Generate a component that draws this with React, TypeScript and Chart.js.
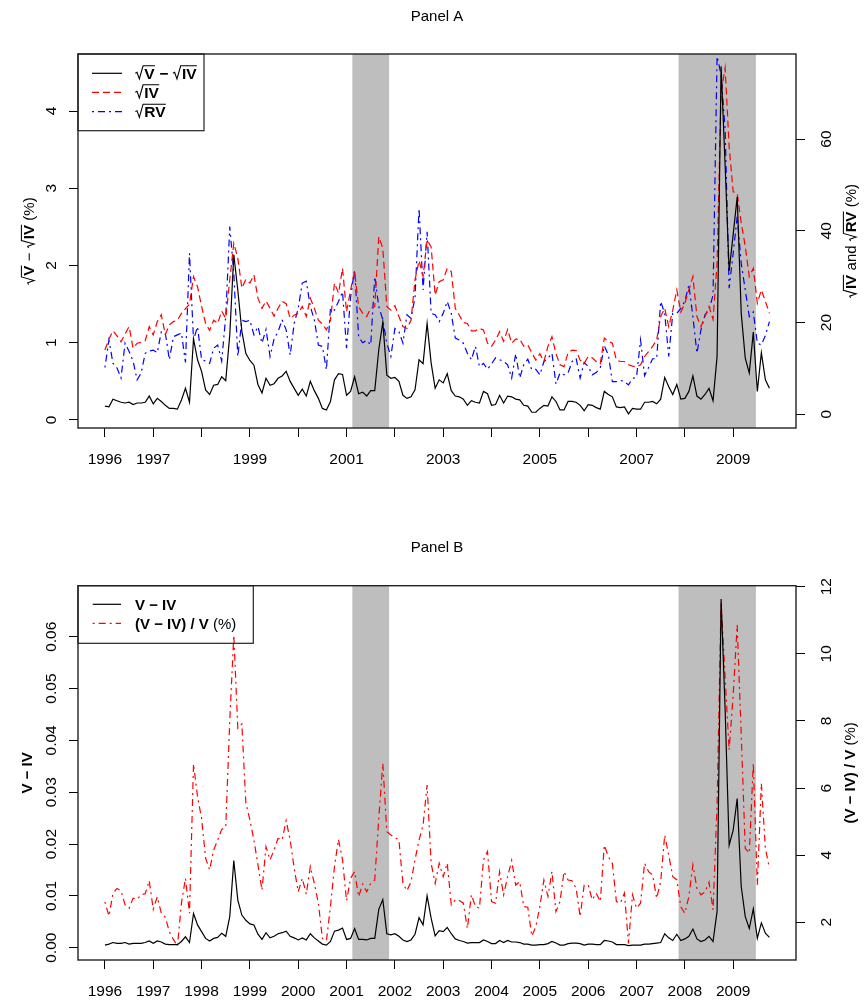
import React, { useEffect, useRef } from 'react';
import { Chart, registerables } from 'chart.js';

Chart.register(...registerables);

// ---------------- DATA ----------------
const START_YEAR = 1996; // monthly observations, Jan 1996 - Oct 2009
const recessions: number[][] = [
  [2001.12, 2001.88],
  [2007.87, 2009.47],
];
const xTickYears = [1996, 1997, 1998, 1999, 2000, 2001, 2002, 2003, 2004, 2005, 2006, 2007, 2008, 2009];
const panelAXLabels = [1996, 1997, 1999, 2001, 2003, 2005, 2007, 2009];
const yTicksA = [0, 1, 2, 3, 4];
const y2TicksA = [0, 20, 40, 60];
const yTicksB = [0, 0.01, 0.02, 0.03, 0.04, 0.05, 0.06];
const y2TicksB = [2, 4, 6, 8, 10, 12];

// Panel A: sqrt(V) - sqrt(IV) (%), left axis
const sqrtVminusSqrtIV = [
  0.18, 0.17, 0.27, 0.25, 0.23, 0.22, 0.23, 0.20, 0.22, 0.22, 0.23, 0.31,
  0.21, 0.28, 0.24, 0.19, 0.15, 0.15, 0.14, 0.26, 0.41, 0.23, 1.05, 0.78,
  0.63, 0.39, 0.33, 0.45, 0.46, 0.56, 0.51, 1.10, 2.14, 1.68, 1.15, 0.86,
  0.77, 0.71, 0.46, 0.35, 0.54, 0.45, 0.47, 0.54, 0.57, 0.63, 0.50, 0.41,
  0.32, 0.40, 0.31, 0.50, 0.38, 0.28, 0.15, 0.13, 0.24, 0.52, 0.60, 0.59,
  0.32, 0.37, 0.56, 0.34, 0.36, 0.31, 0.38, 0.38, 0.91, 1.27, 0.58, 0.54,
  0.55, 0.50, 0.32, 0.28, 0.30, 0.39, 0.78, 0.73, 1.25, 0.74, 0.41, 0.52,
  0.48, 0.60, 0.38, 0.31, 0.30, 0.27, 0.19, 0.25, 0.23, 0.22, 0.37, 0.34,
  0.19, 0.20, 0.32, 0.22, 0.31, 0.30, 0.27, 0.26, 0.19, 0.18, 0.10, 0.10,
  0.15, 0.19, 0.18, 0.30, 0.24, 0.13, 0.13, 0.24, 0.24, 0.23, 0.19, 0.12,
  0.20, 0.19, 0.16, 0.14, 0.37, 0.33, 0.30, 0.17, 0.16, 0.17, 0.08, 0.15,
  0.14, 0.14, 0.23, 0.23, 0.24, 0.21, 0.27, 0.55, 0.43, 0.33, 0.46, 0.27,
  0.28, 0.37, 0.57, 0.31, 0.27, 0.33, 0.41, 0.25, 0.82, 4.58, 3.30, 1.93,
  2.40, 2.89, 1.38, 0.80, 0.61, 1.14, 0.37, 0.87, 0.52, 0.41,
];

// Panel A: sqrt(IV) (%), right axis
const sqrtIV = [
  14.0, 16.4, 18.2, 17.1, 15.8, 17.5, 19.1, 14.4, 15.5, 15.7, 16.0, 19.1,
  17.3, 20.2, 21.7, 17.4, 19.5, 20.2, 20.5, 22.0, 23.0, 24.0, 30.0, 27.8,
  23.5, 19.8, 18.3, 20.5, 19.8, 22.5, 20.9, 29.3, 37.3, 34.0, 27.5, 29.4,
  28.6, 30.4, 25.3, 23.1, 24.7, 23.1, 21.4, 23.1, 24.6, 24.1, 20.9, 21.6,
  22.0, 23.5, 21.3, 25.3, 23.1, 20.5, 19.7, 18.4, 20.5, 28.6, 26.4, 31.8,
  22.3, 27.1, 31.1, 23.5, 22.0, 21.3, 23.1, 23.5, 38.7, 36.2, 23.5, 22.7,
  23.7, 21.3, 19.1, 18.7, 20.5, 29.3, 33.5, 30.0, 38.0, 36.5, 26.0, 28.9,
  29.3, 31.8, 31.1, 23.1, 21.6, 20.0, 19.8, 18.2, 18.2, 18.7, 18.4, 15.5,
  14.8, 16.2, 18.0, 15.9, 18.5, 15.5, 16.4, 16.4, 14.8, 15.1, 13.4, 11.8,
  13.2, 11.5, 14.8, 16.9, 13.2, 10.8, 10.4, 13.4, 14.0, 13.9, 11.8, 11.1,
  12.6, 12.3, 11.5, 11.0, 16.6, 15.9, 15.5, 11.8, 11.5, 11.5, 10.8, 10.5,
  10.3, 10.8, 12.6, 13.7, 14.8, 16.2, 21.3, 23.1, 19.1, 22.7, 27.1, 22.3,
  24.2, 27.1, 30.0, 21.3, 19.1, 21.3, 23.5, 20.7, 32.9, 70.0, 75.5, 58.4,
  48.5, 48.2, 41.7, 36.6, 30.0, 31.8, 24.2, 27.1, 24.6, 22.0,
];

// Panel A: sqrt(RV) (%), right axis
const sqrtRV = [
  10.2, 16.2, 11.1, 10.1, 7.9, 15.5, 13.7, 11.6, 7.5, 9.0, 13.3, 13.8,
  14.0, 13.4, 18.0, 17.7, 11.9, 16.9, 17.3, 17.7, 11.3, 35.1, 16.2, 19.1,
  11.9, 11.6, 11.1, 14.4, 15.1, 11.6, 21.3, 40.9, 30.8, 12.6, 20.5, 20.2,
  20.5, 17.3, 19.1, 15.5, 18.5, 12.6, 16.4, 18.0, 20.6, 18.4, 12.9, 19.8,
  23.1, 28.6, 29.0, 23.5, 20.6, 15.1, 14.8, 9.7, 23.1, 22.7, 24.6, 26.7,
  14.4, 25.5, 31.5, 16.9, 15.6, 16.1, 15.1, 30.0, 23.5, 20.6, 15.5, 12.6,
  18.7, 18.0, 15.5, 21.7, 20.9, 25.5, 44.9, 27.1, 39.8, 22.0, 21.7, 20.2,
  22.0, 24.6, 22.0, 16.6, 16.2, 15.5, 13.3, 11.9, 14.8, 10.4, 11.1, 9.8,
  11.0, 12.3, 11.9, 11.5, 10.8, 7.9, 13.2, 7.9, 10.8, 12.0, 9.7, 9.8,
  8.6, 11.5, 12.2, 13.3, 6.6, 9.0, 8.6, 9.0, 11.5, 12.2, 7.9, 11.3,
  10.4, 8.6, 9.1, 10.1, 14.9, 13.0, 7.1, 7.1, 7.4, 7.1, 6.4, 7.8,
  8.1, 16.2, 8.4, 10.2, 12.1, 12.1, 24.6, 22.0, 12.6, 22.0, 22.0, 23.1,
  24.6, 28.2, 21.3, 13.3, 18.4, 21.7, 22.7, 26.0, 78.0, 74.0, 62.0, 27.5,
  35.1, 43.1, 32.9, 27.1, 21.3, 22.3, 15.5, 15.1, 17.2, 20.2,
];

// Panel B: V - IV, left axis
const vMinusIV = [
  0.0005, 0.0007, 0.0010, 0.00085, 0.00085, 0.0010, 0.0007, 0.00085, 0.00085, 0.00085, 0.0010, 0.0013,
  0.00085, 0.0013, 0.0011, 0.0007, 0.0006, 0.0006, 0.0006, 0.0012, 0.0021, 0.0010, 0.0066, 0.0044,
  0.0031, 0.0018, 0.0013, 0.0018, 0.0020, 0.0028, 0.0022, 0.0060, 0.0168, 0.0092, 0.0063, 0.0053,
  0.0046, 0.0044, 0.0026, 0.0016, 0.0029, 0.0019, 0.0022, 0.0027, 0.0029, 0.0032, 0.0022, 0.0019,
  0.0015, 0.0019, 0.0015, 0.0027, 0.0019, 0.0013, 0.0007, 0.0005, 0.0012, 0.0032, 0.0034, 0.0038,
  0.0016, 0.0018, 0.0037, 0.0016, 0.0016, 0.0015, 0.0018, 0.0018, 0.0074, 0.0093, 0.0027, 0.0025,
  0.0027, 0.0022, 0.0015, 0.0012, 0.0015, 0.0026, 0.0058, 0.0044, 0.0100, 0.0057, 0.0023, 0.0033,
  0.0031, 0.0039, 0.0027, 0.0017, 0.0014, 0.0012, 0.0009, 0.0010, 0.0010, 0.0010, 0.0015, 0.0012,
  0.0008, 0.0008, 0.0014, 0.0010, 0.0014, 0.0011, 0.0011, 0.0010, 0.0007, 0.0007, 0.0005, 0.0005,
  0.0006, 0.0006, 0.0008, 0.0012, 0.0009, 0.0005, 0.0005, 0.0008, 0.0009, 0.0009, 0.0008, 0.0005,
  0.0007, 0.0007, 0.0006, 0.0006, 0.0014, 0.0013, 0.0011, 0.0006, 0.0006, 0.0006, 0.0004, 0.0005,
  0.0005, 0.0005, 0.0007, 0.0007, 0.0008, 0.0009, 0.0010, 0.0027, 0.0019, 0.0014, 0.0026, 0.0014,
  0.0017, 0.0022, 0.0036, 0.0017, 0.0012, 0.0015, 0.0022, 0.0012, 0.0070, 0.0673, 0.0460, 0.0198,
  0.0227, 0.0288, 0.0118, 0.0060, 0.0037, 0.0075, 0.0018, 0.0048, 0.0028, 0.0020,
];

// Panel B: (V - IV) / V (%), right axis
const vMinusIVPct = [
  2.61, 2.19, 2.86, 3.01, 2.94, 2.52, 2.42, 2.72, 2.69, 2.82, 2.85, 3.24,
  2.39, 2.76, 2.27, 2.15, 1.72, 1.49, 1.29, 2.57, 3.31, 2.27, 6.72, 5.74,
  5.10, 3.91, 3.56, 4.15, 4.45, 4.77, 4.83, 8.00, 10.56, 7.78, 7.91, 5.55,
  5.05, 4.45, 3.71, 2.96, 4.25, 3.86, 4.16, 4.50, 4.45, 5.03, 4.45, 3.61,
  2.91, 3.31, 2.84, 3.66, 3.16, 2.57, 1.52, 1.45, 2.47, 3.66, 4.47, 3.86,
  2.64, 3.31, 3.51, 2.76, 3.14, 2.91, 3.16, 3.26, 5.10, 6.74, 4.70, 4.60,
  4.53, 4.45, 3.16, 2.94, 3.21, 3.86, 4.45, 4.90, 6.09, 3.76, 3.16, 3.76,
  3.36, 3.76, 2.52, 2.67, 2.65, 2.57, 1.82, 2.82, 2.47, 2.42, 3.86, 4.11,
  2.62, 2.57, 3.51, 2.82, 3.36, 3.84, 3.11, 3.21, 2.47, 2.45, 1.59, 1.87,
  2.47, 3.26, 2.77, 3.51, 2.32, 2.62, 3.51, 3.26, 3.24, 3.01, 2.17, 3.11,
  3.11, 2.67, 2.87, 2.62, 4.30, 3.96, 3.76, 2.62, 2.57, 2.87, 1.37, 2.82,
  2.42, 2.57, 3.76, 3.51, 3.41, 2.72, 3.21, 4.60, 4.00, 3.36, 3.27, 2.46,
  2.27, 2.77, 3.71, 3.01, 2.82, 2.90, 3.20, 2.37, 5.50, 11.55, 9.30, 7.13,
  8.77, 10.86, 7.58, 4.20, 4.06, 6.74, 3.11, 6.14, 4.20, 3.61,
];

// ---------------- HELPERS ----------------
const FONT = '"Liberation Sans", Arial, Helvetica, sans-serif';
const DASHED = [7, 4];
const DOTDASH = [2, 4, 7, 4];
const toXY = (arr: number[]) => arr.map((v, i) => ({ x: START_YEAR + i / 12, y: v }));
const fontStr = (size: number, bold: boolean) => `${bold ? 'bold ' : ''}${size}px ${FONT}`;

type Seg = { t: string; b?: boolean; r?: boolean };

function segWidth(ctx: CanvasRenderingContext2D, s: Seg, size: number) {
  ctx.font = fontStr(size, !!s.b);
  const w = ctx.measureText(s.t).width;
  return s.r ? w + size * 0.62 : w;
}

function drawRich(ctx: CanvasRenderingContext2D, segs: Seg[], x: number, y: number, size: number, align: string) {
  const total = segs.reduce((a, s) => a + segWidth(ctx, s, size), 0);
  let cx = align === 'center' ? x - total / 2 : x;
  ctx.textAlign = 'left';
  ctx.textBaseline = 'alphabetic';
  ctx.fillStyle = '#000';
  for (const s of segs) {
    ctx.font = fontStr(size, !!s.b);
    const w = ctx.measureText(s.t).width;
    if (s.r) {
      const top = y - size * 0.84;
      ctx.save();
      ctx.beginPath();
      ctx.lineWidth = Math.max(1, size * 0.07);
      ctx.strokeStyle = '#000';
      ctx.setLineDash([]);
      ctx.moveTo(cx + size * 0.02, y - size * 0.36);
      ctx.lineTo(cx + size * 0.13, y - size * 0.42);
      ctx.lineTo(cx + size * 0.28, y + size * 0.01);
      ctx.lineTo(cx + size * 0.52, top);
      ctx.lineTo(cx + size * 0.62 + w, top);
      ctx.stroke();
      ctx.restore();
      ctx.fillText(s.t, cx + size * 0.6, y);
      cx += w + size * 0.62;
    } else {
      ctx.fillText(s.t, cx, y);
      cx += w;
    }
  }
}

function drawRotated(ctx: CanvasRenderingContext2D, segs: Seg[], x: number, y: number, size: number) {
  ctx.save();
  ctx.translate(x, y);
  ctx.rotate(-Math.PI / 2);
  drawRich(ctx, segs, 0, 0, size, 'center');
  ctx.restore();
}

const MINUS = ' \u2212 ';

function decorPlugin(cfg: any) {
  return {
    id: 'decor',
    beforeDatasetsDraw(chart: any) {
      const { ctx, chartArea: a, scales } = chart;
      ctx.save();
      ctx.fillStyle = '#bebebe';
      for (const [s, e] of recessions) {
        const x0 = scales.x.getPixelForValue(s);
        const x1 = scales.x.getPixelForValue(e);
        ctx.fillRect(x0, a.top, x1 - x0, a.bottom - a.top);
      }
      ctx.restore();
    },
    afterDraw(chart: any) {
      const { ctx, chartArea: a, scales } = chart;
      ctx.save();
      // plot box
      ctx.strokeStyle = '#222';
      ctx.lineWidth = 1.4;
      ctx.setLineDash([]);
      ctx.strokeRect(a.left, a.top, a.right - a.left, a.bottom - a.top);
      // title
      ctx.fillStyle = '#000';
      ctx.font = fontStr(15, false);
      ctx.textAlign = 'center';
      ctx.textBaseline = 'middle';
      ctx.fillText(cfg.title, (a.left + a.right) / 2, cfg.titleY);
      // rotated y tick labels
      const tickFont = 15.5;
      for (const [id, xb, fmt] of [['y', 55.7, cfg.fmtL], ['y2', 831, cfg.fmtR]] as any) {
        const sc = scales[id];
        for (const t of sc.ticks) {
          const py = sc.getPixelForValue(t.value);
          ctx.save();
          ctx.translate(xb, py);
          ctx.rotate(-Math.PI / 2);
          ctx.font = fontStr(tickFont, false);
          ctx.textAlign = 'center';
          ctx.textBaseline = 'alphabetic';
          ctx.fillStyle = '#000';
          ctx.fillText(fmt(t.value), 0, 0);
          ctx.restore();
        }
      }
      // axis titles
      const cy = (a.top + a.bottom) / 2;
      drawRotated(ctx, cfg.leftTitle, cfg.leftTitleX, cy, 15);
      drawRotated(ctx, cfg.rightTitle, cfg.rightTitleX, cy, 15);
      // legend
      const L = cfg.legend;
      ctx.strokeStyle = '#222';
      ctx.lineWidth = 1.2;
      ctx.strokeRect(a.left, a.top, L.right - a.left, L.bottom - a.top);
      for (const it of L.items) {
        ctx.beginPath();
        ctx.strokeStyle = it.color;
        ctx.lineWidth = 1.2;
        ctx.setLineDash(it.dash);
        ctx.moveTo(L.lineX0, it.y);
        ctx.lineTo(L.lineX1, it.y);
        ctx.stroke();
        ctx.setLineDash([]);
        drawRich(ctx, it.segs, L.textX, it.y + 5.5, L.size, 'left');
      }
      ctx.restore();
    },
  };
}

function baseOptions(cfg: any) {
  return {
    responsive: false,
    animation: false,
    devicePixelRatio: 1,
    events: [],
    layout: { padding: { top: cfg.padTop, left: 0, right: 0, bottom: 0 } },
    plugins: { legend: { display: false }, title: { display: false }, tooltip: { enabled: false } },
    elements: { point: { radius: 0 }, line: { tension: 0 } },
    scales: {
      x: {
        type: 'linear',
        min: 1995.443,
        max: 2010.3,
        position: 'bottom',
        afterFit: (s: any) => { s.height = cfg.xHeight; },
        afterBuildTicks: (s: any) => { s.ticks = xTickYears.map((v) => ({ value: v })); },
        grid: { drawOnChartArea: false, drawTicks: true, tickLength: 9, color: '#000', lineWidth: 1 },
        border: { display: false },
        ticks: {
          autoSkip: false,
          maxRotation: 0,
          minRotation: 0,
          padding: 13,
          color: '#000',
          font: { family: FONT, size: 15.5 },
          callback: (v: number) => (cfg.xLabels.includes(v) ? String(v) : ''),
        },
      },
      y: {
        type: 'linear',
        position: 'left',
        min: cfg.yMin,
        max: cfg.yMax,
        afterFit: (s: any) => { s.width = 78; },
        afterBuildTicks: (s: any) => { s.ticks = cfg.yTicks.map((v: number) => ({ value: v })); },
        grid: { drawOnChartArea: false, drawTicks: true, tickLength: 9, color: '#000', lineWidth: 1 },
        border: { display: false },
        ticks: { display: false },
      },
      y2: {
        type: 'linear',
        position: 'right',
        min: cfg.y2Min,
        max: cfg.y2Max,
        afterFit: (s: any) => { s.width = 68; },
        afterBuildTicks: (s: any) => { s.ticks = cfg.y2Ticks.map((v: number) => ({ value: v })); },
        grid: { drawOnChartArea: false, drawTicks: true, tickLength: 9, color: '#000', lineWidth: 1 },
        border: { display: false },
        ticks: { display: false },
      },
    },
  };
}

function PanelA() {
  const ref = useRef<HTMLCanvasElement>(null);
  useEffect(() => {
    const cfg = {
      padTop: 54, xHeight: 72, xLabels: panelAXLabels,
      yMin: -0.1036, yMax: 4.738, yTicks: yTicksA,
      y2Min: -2.99, y2Max: 78.53, y2Ticks: y2TicksA,
    };
    const deco = {
      title: 'Panel A', titleY: 17,
      fmtL: (v: number) => String(v), fmtR: (v: number) => String(v),
      leftTitleX: 34, rightTitleX: 856,
      leftTitle: [{ t: 'V', b: true, r: true }, { t: MINUS }, { t: 'IV', b: true, r: true }, { t: ' (%)' }],
      rightTitle: [{ t: 'IV', b: true, r: true }, { t: ' and ' }, { t: 'RV', b: true, r: true }, { t: ' (%)' }],
      legend: {
        right: 204, bottom: 130.7, lineX0: 92, lineX1: 122, textX: 135, size: 15.5,
        items: [
          { y: 73.3, color: '#000', dash: [], segs: [{ t: 'V', b: true, r: true }, { t: MINUS, b: true }, { t: 'IV', b: true, r: true }] },
          { y: 92.3, color: '#ff0000', dash: DASHED, segs: [{ t: 'IV', b: true, r: true }] },
          { y: 111.7, color: '#0000ff', dash: DOTDASH, segs: [{ t: 'RV', b: true, r: true }] },
        ],
      },
    };
    const chart = new Chart(ref.current as HTMLCanvasElement, {
      type: 'line',
      data: {
        datasets: [
          { data: toXY(sqrtVminusSqrtIV), yAxisID: 'y', borderColor: '#000', borderWidth: 1.2, pointRadius: 0 },
          { data: toXY(sqrtIV), yAxisID: 'y2', borderColor: '#ff0000', borderWidth: 1.2, borderDash: DASHED, pointRadius: 0 },
          { data: toXY(sqrtRV), yAxisID: 'y2', borderColor: '#0000ff', borderWidth: 1.2, borderDash: DOTDASH, pointRadius: 0 },
        ],
      },
      options: baseOptions(cfg) as any,
      plugins: [decorPlugin(deco)],
    });
    return () => chart.destroy();
  }, []);
  return <canvas ref={ref} width={864} height={500} style={{ position: 'absolute', left: 0, top: 0, width: 864, height: 500 }} />;
}

function PanelB() {
  const ref = useRef<HTMLCanvasElement>(null);
  useEffect(() => {
    const cfg = {
      padTop: 85.7, xHeight: 41, xLabels: xTickYears,
      yMin: -0.00237, yMax: 0.06985, yTicks: yTicksB,
      y2Min: 0.877, y2Max: 12.03, y2Ticks: y2TicksB,
    };
    const deco = {
      title: 'Panel B', titleY: 48,
      fmtL: (v: number) => v.toFixed(2), fmtR: (v: number) => String(v),
      leftTitleX: 31.5, rightTitleX: 855,
      leftTitle: [{ t: 'V' + MINUS + 'IV', b: true }],
      rightTitle: [{ t: '(V' + MINUS + 'IV) / V', b: true }, { t: ' (%)' }],
      legend: {
        right: 253.3, bottom: 143.3, lineX0: 92.7, lineX1: 121, textX: 135, size: 15,
        items: [
          { y: 104.3, color: '#000', dash: [], segs: [{ t: 'V' + MINUS + 'IV', b: true }] },
          { y: 123.3, color: '#ff0000', dash: DOTDASH, segs: [{ t: '(V' + MINUS + 'IV) / V', b: true }, { t: ' (%)' }] },
        ],
      },
    };
    const chart = new Chart(ref.current as HTMLCanvasElement, {
      type: 'line',
      data: {
        datasets: [
          { data: toXY(vMinusIV), yAxisID: 'y', borderColor: '#000', borderWidth: 1.2, pointRadius: 0 },
          { data: toXY(vMinusIVPct), yAxisID: 'y2', borderColor: '#ff0000', borderWidth: 1.2, borderDash: DOTDASH, pointRadius: 0 },
        ],
      },
      options: baseOptions(cfg) as any,
      plugins: [decorPlugin(deco)],
    });
    return () => chart.destroy();
  }, []);
  return <canvas ref={ref} width={864} height={501} style={{ position: 'absolute', left: 0, top: 500, width: 864, height: 501 }} />;
}

export default function App() {
  return (
    <div style={{ position: 'absolute', left: 0, top: 0, width: 864, height: 1001, background: '#fff', overflow: 'hidden' }}>
      <PanelA />
      <PanelB />
    </div>
  );
}
